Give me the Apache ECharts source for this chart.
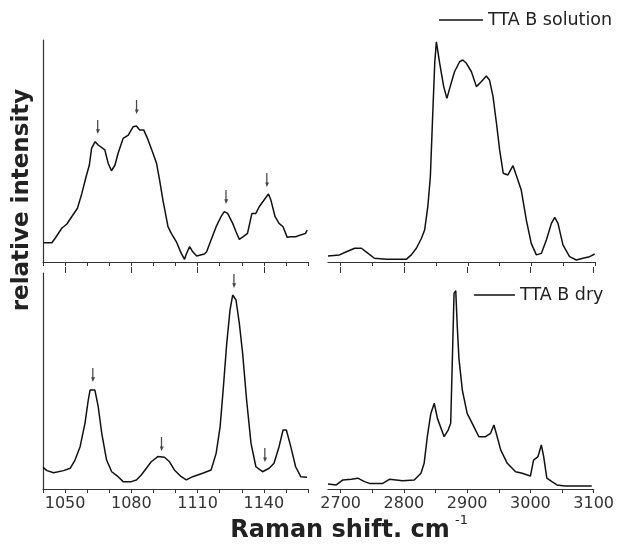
<!DOCTYPE html>
<html>
<head>
<meta charset="utf-8">
<script src="https://cdn.jsdelivr.net/npm/echarts@6/dist/echarts.min.js"></script>
<style>html,body{margin:0;padding:0;background:#fff}#c{width:617px;height:545px}</style>
</head>
<body>
<div id="c"></div>
<script>
// ---- data (relative intensity, arbitrary units 0-100) ----
const solLowX = [1040.3,1044,1045.5,1048.5,1050.8,1053,1055.6,1057.6,1059.5,1061,1062,1063.6,1065,1068,1069.5,1071,1072.6,1074,1076.3,1078.6,1080.8,1082.3,1083.8,1085.6,1087.6,1089.8,1091.4,1092.8,1094.3,1096.6,1098.1,1100.4,1102.6,1104.1,1104.9,1106.4,1107.8,1109.6,1113.1,1114.1,1116.1,1118.4,1120.6,1122.1,1123.6,1125.9,1127.4,1128.9,1130.7,1132.6,1134.6,1136.4,1137.9,1140.1,1142.1,1143.2,1145.1,1146.9,1148.7,1150.6,1152.2,1154.4,1156.7,1158.9,1159.6];
const solLowY = [8.7,8.7,10.7,15.2,17.1,20.4,24.2,30.9,38.4,43.7,51.2,54.2,52.7,50.5,44.5,41.1,43.7,49,55.7,57.2,60.9,61.3,59.5,59.5,55,49,44.5,36.9,27.9,15.9,12.9,9.1,3.9,1.2,3.6,6.9,4.6,2.7,3.6,4.6,9.9,15.9,20.4,22.7,21.9,17.4,13.6,10.2,11.4,12.9,21.9,21.9,24.9,27.9,30.6,27.9,20.4,17.4,15.9,11.1,11.4,11.4,12.2,12.9,14.4];

const solHighX = [2680,2698,2709,2722,2732.5,2740,2753,2772,2803,2811,2819,2827,2832,2837,2841,2845,2848,2850.5,2853,2855.7,2862,2867,2871.4,2879,2887,2892,2897.7,2905.6,2913.5,2921,2929,2934,2939.6,2945,2950,2955.6,2963,2971,2976,2984,2992,2999.7,3007.8,3015.7,3023.5,3031.4,3036.6,3041.8,3049.6,3060,3070.6,3081,3091.6,3099.5];
const solHighY = [2.7,3.2,4.6,6.2,6.2,4.6,1.7,1.2,1.2,3.2,6.2,10.7,14.4,24.9,38.4,68.5,90.2,99.2,99.2,89.5,79,73.7,78.2,85.7,90.2,91,89.5,85.7,79,81.2,83.8,82,74.5,62.5,50.5,40,39.2,43.4,39.2,32.4,18.9,8.4,3.2,3.9,9.9,17.4,20.1,17.4,7.7,2.4,0.9,1.7,2.4,3.6];

const dryLowX = [1040,1041.8,1044.8,1049.3,1052.3,1054.5,1056.8,1059,1060.5,1061.3,1063.5,1065,1066.6,1068.8,1071.1,1074,1076.3,1080,1082.3,1084.5,1086.8,1089,1092,1095,1097.3,1099.5,1102.6,1104.9,1107.8,1112.3,1116.1,1118.4,1120.2,1121.7,1123.2,1124.7,1125.9,1127.4,1128.9,1130.4,1132.2,1134.2,1136.4,1139.4,1142.4,1144.6,1146.9,1148.7,1150.2,1152.2,1154.4,1156.7,1159.6];
const dryLowY = [10,8.5,7.5,8.5,9.6,13.4,19.6,30.4,41.2,45.8,45.8,38.1,25.8,13.4,8,5.7,3.4,3.4,4.2,6.5,9.6,12.6,15,14.7,12.6,8.8,5.7,4.2,5.7,7.3,8.8,16.5,28.8,47.4,67.4,82.9,89.8,87.5,76.7,62.8,41.2,21.1,10.3,8,9.6,11.9,19.6,27.3,27.3,19.6,10.3,5.7,5.4];

const dryHighX = [2680,2693,2703.6,2716.8,2727,2737.7,2745.6,2766.5,2777,2787.6,2798,2816.4,2827,2832,2837,2842.6,2848,2853,2863.6,2870,2874,2876.6,2879.3,2882,2884.4,2887,2892.4,2900,2908,2918.6,2929,2937,2942.3,2946,2953,2963.5,2976.6,2987,3000,3005,3012,3017.3,3021,3026,3034,3042,3055,3097];
const dryHighY = [2.3,1.9,4.2,4.5,5,3.4,2.6,2.6,4.5,4.2,3.8,4.2,7.3,11.9,24.2,35,39.7,32.7,24.2,27.3,30.4,59.7,90.6,91.8,75.1,60.5,45.8,35,30.4,24.2,24.2,25.8,29.6,25.8,18.1,11.9,8,7.3,6,13.4,15,20.4,15,5,3.4,1.9,1.4,1.4];

// peak markers (arrows)
const solArrowX = [1064.9,1082.5,1123,1141.5];
const solArrowY = [60.8,69.8,29.3,36.9];
const dryArrowX = [1062.7,1093.8,1126.6,1140.6];
const dryArrowY = [52.8,20.8,96.3,15.7];

const lowTickLabels = [1050,1080,1110,1140];
const highTickLabels = [2700,2800,2900,3000,3100];
const highMinorTicks = [2700,2750,2800,2850,2900,2950,3000,3050,3100];

const seriesNames = ['TTA B solution','TTA B dry'];
const yTitle = 'relative intensity';
const xTitle = 'Raman shift. cm';
const xTitleSup = '-1';

// ---- chart ----
const zip = (a,b) => a.map((v,i)=>[v,b[i]]);
const lineCol = '#111111';
const axisCol = '#333333';
const tickFont = {fontFamily:'DejaVu Sans', fontSize:16, color:'#333'};

const grids = [
  {left:43, top:40, width:265, height:222},
  {left:328, top:40, width:267, height:222},
  {left:43, top:273, width:265, height:216},
  {left:328, top:273, width:267, height:216}
];

function xAx(g, low, labels){
  const tick = {show:true, length:4, lineStyle:{color:axisCol, width:1}};
  if (!low) tick.customValues = highMinorTicks;
  return {
    type:'value', gridIndex:g,
    min: low?1040:2680, max: low?1160:3100,
    interval: low?10:20,
    axisLine:{show:true, lineStyle:{color:axisCol, width:1.2}},
    axisTick: tick,
    axisLabel: labels ? Object.assign({show:true, margin:7, hideOverlap:false,
        customValues: low?lowTickLabels:highTickLabels, formatter:(v)=>String(v)}, tickFont) : {show:false},
    splitLine:{show:false}
  };
}
function xAxMajor(g, low){
  return {
    type:'value', gridIndex:g,
    min: low?1040:2680, max: low?1160:3100,
    interval: low?10:20,
    axisLine:{show:false},
    axisTick:{show:true, length:6, customValues: low?lowTickLabels:highTickLabels, lineStyle:{color:axisCol, width:1}},
    axisLabel:{show:false},
    splitLine:{show:false}
  };
}
function yAx(g, showLine){
  return {
    type:'value', gridIndex:g, min:0, max:100,
    axisLine:{show:showLine, lineStyle:{color:axisCol, width:1.2}},
    axisTick:{show:false}, axisLabel:{show:false}, splitLine:{show:false}
  };
}

const arrowPath = 'path://M1.4,0 L2.6,0 L2.6,10 L4.2,10 L2,15 L0.4,10 L1.4,10 Z';

function lineSeries(name, xi, yi, data){
  return {
    type:'line', name, xAxisIndex:xi, yAxisIndex:yi, data,
    showSymbol:false, smooth:false, animation:false,
    lineStyle:{color:lineCol, width:1.5}, itemStyle:{color:lineCol}
  };
}
function arrowSeries(xi, yi, data){
  return {
    type:'scatter', name:'peaks', xAxisIndex:xi, yAxisIndex:yi, data,
    symbol: arrowPath, symbolSize:[4,14], symbolKeepAspect:false,
    itemStyle:{color:'#1a1a1a'}, silent:true, animation:false
  };
}

const option = {
  backgroundColor:'#ffffff',
  animation:false,
  grid: grids,
  xAxis: [xAx(0,true,false), xAx(1,false,false), xAx(2,true,true), xAx(3,false,true), xAxMajor(2,true), xAxMajor(3,false)],
  yAxis: [yAx(0,true), yAx(1,false), yAx(2,true), yAx(3,false)],
  legend: [
    {data:[seriesNames[0]], left:439, top:11, padding:0, itemWidth:44, itemHeight:1.3, icon:'rect', selectedMode:false,
     textStyle:{fontFamily:'DejaVu Sans', fontSize:17.5, color:'#222'}, itemStyle:{color:lineCol}},
    {data:[seriesNames[1]], left:474, top:286, padding:0, itemWidth:41, itemHeight:1.3, icon:'rect', selectedMode:false,
     textStyle:{fontFamily:'DejaVu Sans', fontSize:17.5, color:'#222'}, itemStyle:{color:lineCol}}
  ],
  series: [
    lineSeries(seriesNames[0],0,0,zip(solLowX,solLowY)),
    lineSeries(seriesNames[0],1,1,zip(solHighX,solHighY)),
    lineSeries(seriesNames[1],2,2,zip(dryLowX,dryLowY)),
    lineSeries(seriesNames[1],3,3,zip(dryHighX,dryHighY)),
    arrowSeries(0,0,zip(solArrowX,solArrowY)),
    arrowSeries(2,2,zip(dryArrowX,dryArrowY))
  ],
  graphic: [
    {type:'text', x:22, y:200, rotation:Math.PI/2, style:{text:yTitle, fontFamily:'DejaVu Sans', fontWeight:'bold', fontSize:23, fill:'#222', align:'center', verticalAlign:'middle'}},
    {type:'text', x:340, y:531, style:{text:xTitle, fontFamily:'DejaVu Sans', fontWeight:'bold', fontSize:24, fill:'#222', align:'center', verticalAlign:'middle'}},
    {type:'text', x:455, y:521, style:{text:xTitleSup, fontFamily:'DejaVu Sans', fontSize:13, fill:'#222', align:'left', verticalAlign:'middle'}}
  ]
};

const chart = echarts.init(document.getElementById('c'), null, {renderer:'canvas'});
chart.setOption(option);
</script>
</body>
</html>
